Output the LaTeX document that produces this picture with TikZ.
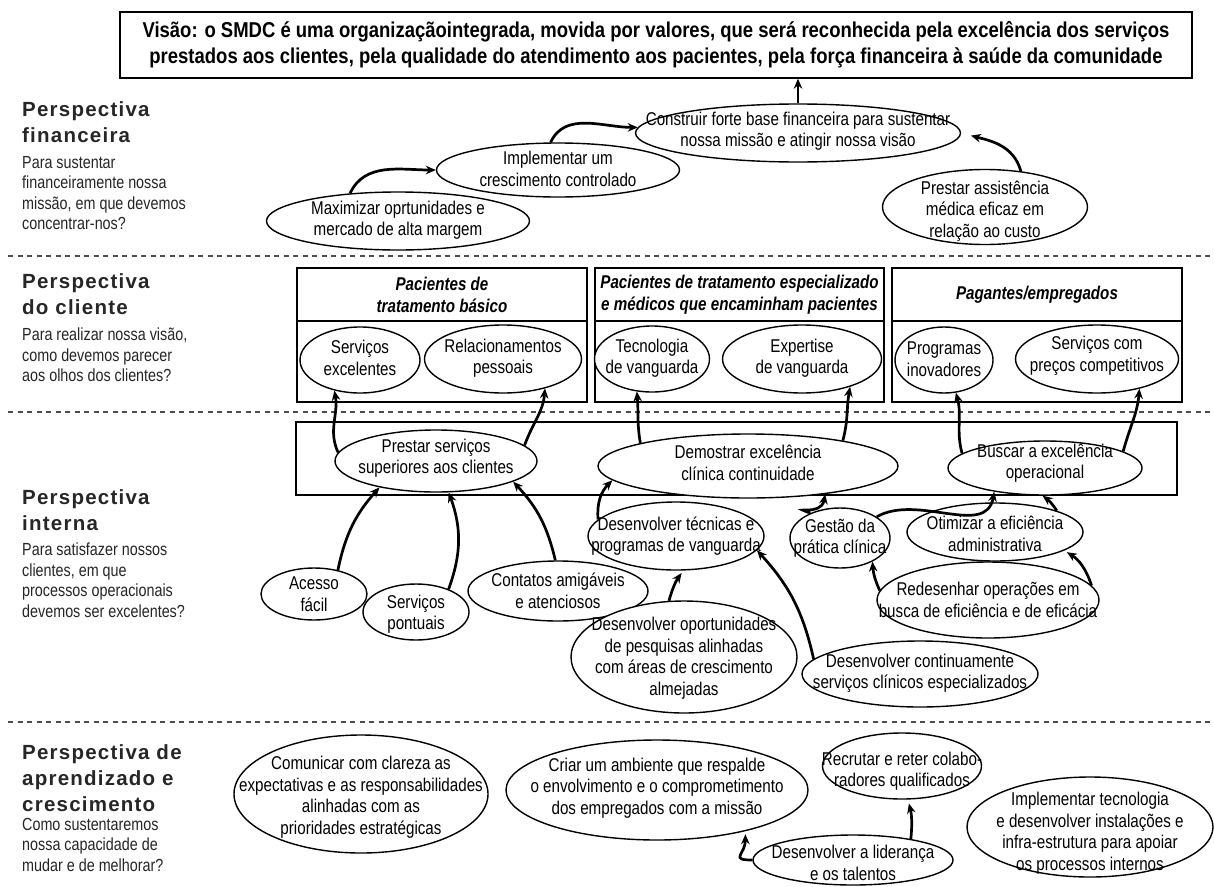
\documentclass[tikz,border=0pt]{standalone}
\usepackage{fontspec}
\setmainfont{Liberation Sans}[FakeStretch=0.82]
\newfontfamily\visfont{Liberation Sans}[FakeStretch=0.86]
\newfontfamily\headfont{Liberation Sans}[LetterSpace=6]
\usetikzlibrary{shapes.geometric,arrows.meta}
\tikzset{
  el/.style={draw, ellipse, line width=1.4pt, inner sep=0pt, fill=white},
  eltxt/.style={align=center, inner sep=0pt, font=\fontsize{18.5}{21.5}\selectfont},
  arr/.style={line width=2.7pt, -{Stealth[length=10pt,width=8.5pt]}},
  boxr/.style={draw, line width=1.4pt, inner sep=0pt},
  sepline/.style={line width=1.6pt, dash pattern=on 5pt off 4.5pt, black!70},
  headtxt/.style={align=left, inner sep=0pt, anchor=north west, text=black!85, font=\headfont\bfseries\fontsize{20.5}{26}\selectfont},
  bodytxt/.style={align=left, inner sep=0pt, anchor=north west, text=black!85, font=\fontsize{17.5}{20.5}\selectfont},
  hdrtxt/.style={align=center, font=\bfseries\itshape\fontsize{18.5}{22}\selectfont},
}
\newcommand\ellnode[7]{%
  \node[el, minimum width=#4pt, minimum height=#5pt] (#1) at (#2,-#3) {};
  \node[eltxt] (#1-t) at (#2,-#6) {#7};}
\begin{document}
\begin{tikzpicture}[x=1pt,y=1pt]
\useasboundingbox (0,0) rectangle (1214,-886);
\fill[white] (0,0) rectangle (1214,-886);

% separators
\draw[sepline] (8,-256) -- (1210,-256);
\draw[sepline] (8,-412) -- (1210,-412);
\draw[sepline] (8,-722) -- (1210,-722);

% vision
\node[boxr, minimum width=1072pt, minimum height=66pt, align=center, font=\visfont\bfseries\fontsize{21.5}{26}\selectfont] (vision) at (656,-45)
 {Visão: o SMDC é uma organizaçãointegrada, movida por valores, que será reconhecida pela excelência dos serviços\\prestados aos clientes, pela qualidade do atendimento aos pacientes, pela força financeira à saúde da comunidade};

% left labels
\node[headtxt] (h1) at (22,-101) {Perspectiva\\financeira};
\node[bodytxt] (b1) at (22,-156) {Para sustentar\\financeiramente nossa\\missão, em que devemos\\concentrar-nos?};
\node[headtxt] (h2) at (22,-273) {Perspectiva\\do cliente};
\node[bodytxt] (b2) at (22,-328) {Para realizar nossa visão,\\como devemos parecer\\aos olhos dos clientes?};
\node[headtxt] (h3) at (22,-489) {Perspectiva\\interna};
\node[bodytxt] (b3) at (22,-543) {Para satisfazer nossos\\clientes, em que\\processos operacionais\\devemos ser excelentes?};
\node[headtxt] (h4) at (22,-744) {Perspectiva de\\aprendizado e\\crescimento};
\node[bodytxt] (b4) at (22,-818) {Como sustentaremos\\nossa capacidade de\\mudar e de melhorar?};

% client boxes
\node[boxr, hdrtxt, minimum width=290pt, minimum height=53pt] (cb1h) at (442,-294.5) {Pacientes de\\tratamento básico};
\node[boxr, minimum width=290pt, minimum height=81pt] (cb1b) at (442,-361.5) {};
\node[boxr, hdrtxt, minimum width=289pt, minimum height=53pt] (cb2h) at (739.5,-294.5) {Pacientes de tratamento especializado\\e médicos que encaminham pacientes};
\node[boxr, minimum width=289pt, minimum height=81pt] (cb2b) at (739.5,-361.5) {};
\node[boxr, hdrtxt, minimum width=290pt, minimum height=53pt] (cb3h) at (1037,-294.5) {Pagantes/empregados};
\node[boxr, minimum width=290pt, minimum height=81pt] (cb3b) at (1037,-361.5) {};

% internal box
\node[boxr, minimum width=881pt, minimum height=73pt] (ibox) at (736.5,-458.5) {};

% financial
\ellnode{max}{398}{221}{263}{58}{220}{Maximizar oprtunidades e\\mercado de alta margem}
\ellnode{impl}{558}{170}{243}{54}{169}{Implementar um\\crescimento controlado}
\ellnode{constr}{798}{133}{325}{58}{131}{Construir forte base financeira para sustentar\\nossa missão e atingir nossa visão}
\ellnode{prest}{985}{207}{205}{75}{211}{Prestar assistência\\médica eficaz em\\relação ao custo}

% client
\ellnode{sexc}{360}{360}{120}{66}{358}{Serviços\\excelentes}
\ellnode{rel}{503}{359}{157}{68}{358}{Relacionamentos\\pessoais}
\ellnode{tec}{652}{359}{115}{66}{358}{Tecnologia\\de vanguarda}
\ellnode{exp}{802}{359}{159}{68}{358}{Expertise\\de vanguarda}
\ellnode{prog}{944}{360}{98}{66}{359}{Programas\\inovadores}
\ellnode{spc}{1097}{359}{163}{68}{356}{Serviços com\\preços competitivos}

% internal
\ellnode{pss}{436}{461}{202}{62}{458}{Prestar serviços\\superiores aos clientes}
\ellnode{demo}{748}{466}{300}{64}{463}{Demostrar excelência\\clínica continuidade}
\ellnode{busc}{1045}{468}{194}{54}{463}{Buscar a excelência\\operacional}
\ellnode{acesso}{314}{594}{106}{52}{594}{Acesso\\fácil}
\ellnode{spont}{416}{612}{106}{56}{614}{Serviços\\pontuais}
\ellnode{cont}{558}{591}{180}{60}{591}{Contatos amigáveis\\e atenciosos}
\ellnode{dtec}{676}{536}{176}{68}{536}{Desenvolver técnicas e\\programas de vanguarda}
\ellnode{gest}{840}{538}{100}{60}{538}{Gestão da\\prática clínica}
\ellnode{otim}{995}{532}{176}{58}{534}{Otimizar a eficiência\\administrativa}
\ellnode{redes}{988}{600}{222}{76}{600}{Redesenhar operações em\\busca de eficiência e de eficácia}
\ellnode{dop}{684}{657}{226}{112}{658}{Desenvolver oportunidades\\de pesquisas alinhadas\\com áreas de crescimento\\almejadas}
\ellnode{dc}{920}{674}{236}{66}{673}{Desenvolver continuamente\\serviços clínicos especializados}

% learning
\ellnode{com}{361}{794}{254}{118}{797}{Comunicar com clareza as\\expectativas e as responsabilidades\\alinhadas com as\\prioridades estratégicas}
\ellnode{criar}{657}{790}{302}{100}{788}{Criar um ambiente que respalde\\o envolvimento e o comprometimento\\dos empregados com a missão}
\ellnode{recr}{902}{766}{159}{66}{771}{Recrutar e reter colabo-\\radores qualificados}
\ellnode{lid}{853}{860}{200}{50}{863}{Desenvolver a liderança\\e os talentos}
\ellnode{impt}{1090}{827}{246}{100}{833}{Implementar tecnologia\\e desenvolver instalações e\\infra-estrutura para apoiar\\os processos internos}

% arrows financial
\draw[arr] (max.150) to[out=65,in=180] (impl.west);
\draw[arr] (impl.105) to[out=65,in=180] (constr.178);
\draw[arr] (constr.north) -- (constr.north |- vision.south);
\draw[arr, shorten >=10pt] (prest.45) to[out=105,in=-15] (constr.east);

% arrows client
\draw[arr] (pss.175) to[out=115,in=-80] (sexc.230);
\draw[arr] (pss.10) to[out=70,in=-95] (rel.325);
\draw[arr] (demo.168) to[out=100,in=-85] (tec.245);
\draw[arr] (demo.15) to[out=75,in=-100] (exp.330);
\draw[arr] (busc.170) to[out=105,in=-75] (prog.290);
\draw[arr] (busc.12) to[out=75,in=-95] (spc.325);

% arrows internal
\draw[arr] (acesso.45) to[bend left=15] (pss.205);
\draw[arr] (spont.35) to[bend right=20] (pss.292);
\draw[arr] (cont.95) to[bend right=15] (pss.345);
\draw[arr] (dtec.168) to[bend left=25] (demo.186);
\draw[arr, shorten >=3pt] (dop.105) to[bend left=10] (dtec.282);
\draw[arr] (dc.172) to[bend right=15] (dtec.350);
\draw[arr] (gest.140) to[out=160,in=-100,looseness=2.5] (demo.340);
\draw[arr] (gest.30) to[out=30,in=-100] (busc.205);
\draw[arr] (otim.19) to[bend right=10] (busc.265);
\draw[arr] (redes.175) to[bend left=10] (gest.324);
\draw[arr, shorten >=3pt] (redes.8) to[bend right=20] (otim.345);

% arrows learning
\draw[arr, shorten >=4pt] (lid.20) to[bend right=10] (recr.280);
\draw[arr, shorten >=3pt] (lid.west) to[out=180,in=-90,looseness=2] (criar.335);
\end{tikzpicture}
\end{document}
